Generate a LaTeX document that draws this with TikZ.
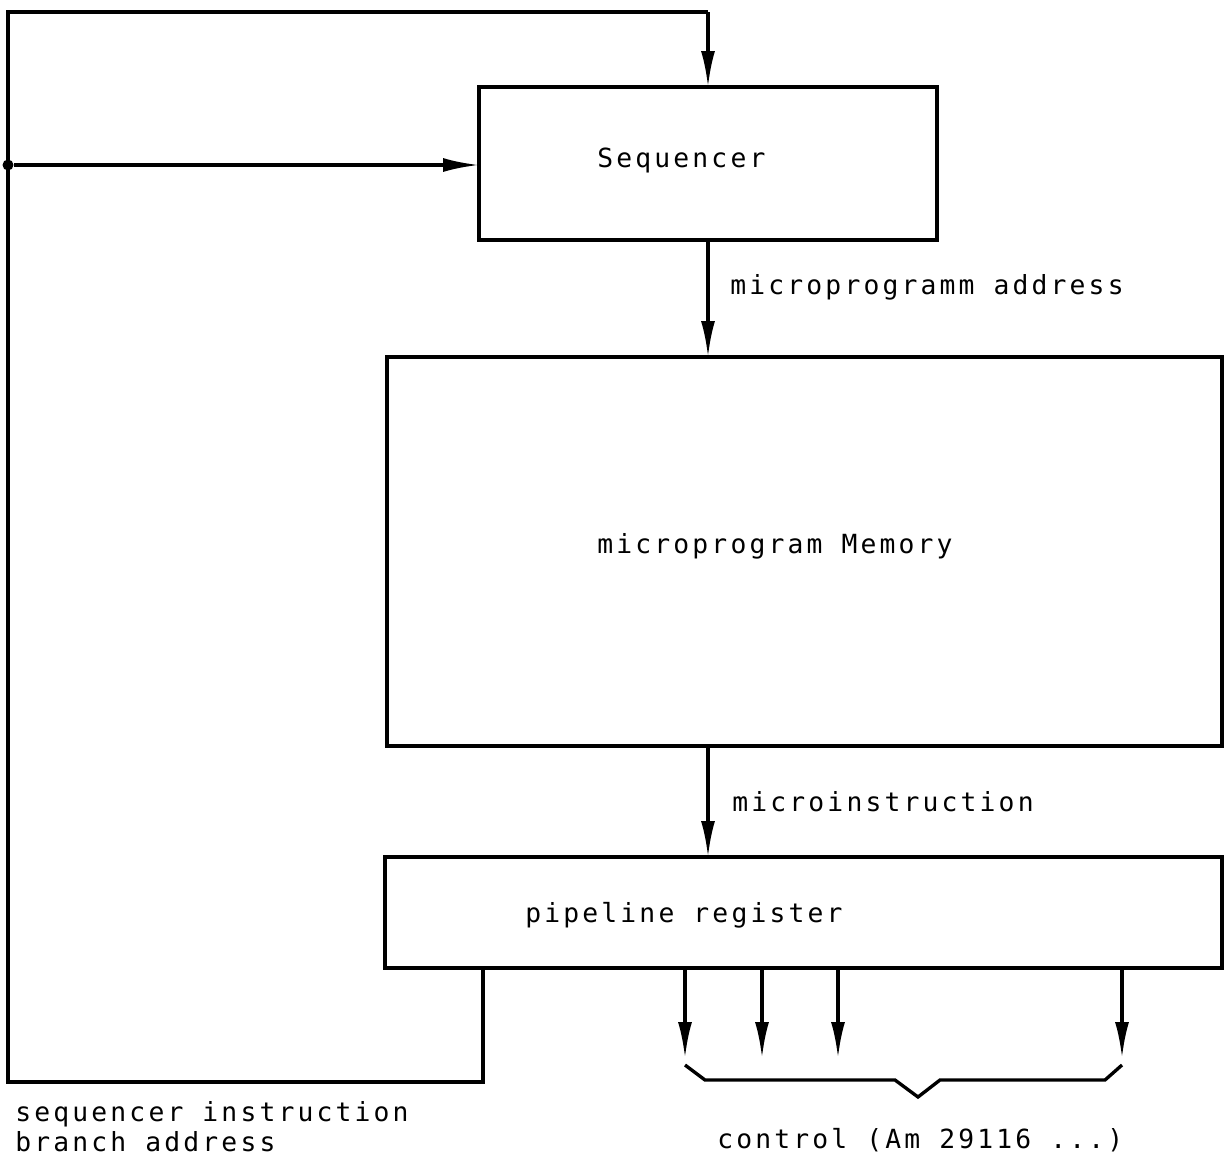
\documentclass[tikz,border=0pt]{standalone}
\usepackage{fontspec}
\setmonofont{DejaVu Sans Mono}[LetterSpace=12]
\usetikzlibrary{arrows.meta}
\begin{document}
\begin{tikzpicture}[x=0.02cm, y=-0.02cm,
  font=\ttfamily\fontsize{15}{19}\selectfont,
  blk/.style={draw, line width=1.9pt, inner sep=0pt, outer sep=0pt},
  txt/.style={inner sep=0pt, anchor=west},
  wire/.style={line width=1.9pt},
  arr/.style={wire, -{Latex[length=0.72cm, width=0.28cm]}}]
  \useasboundingbox (0,0) rectangle (1224,1163);
  % blocks
  \node[blk, minimum width=9.16cm, minimum height=3.06cm] (seq) at (708,163.5) {};
  \node[blk, minimum width=16.7cm, minimum height=7.78cm] (mem) at (804.5,551.5) {};
  \node[blk, minimum width=16.74cm, minimum height=2.22cm] (pipe) at (803.5,912.5) {};
  \node[txt] (seqtxt) at (597,160) {Sequencer};
  \node[txt] (memtxt) at (597,546) {microprogram Memory};
  \node[txt] (pipetxt) at (525,915) {pipeline register};
  % data path
  \draw[arr] (seq.south) -- (seq.south |- mem.north);
  \node[txt] (addr) at (730,287) {microprogramm address};
  \draw[arr] (seq.south |- mem.south) -- (seq.south |- pipe.north);
  \node[txt] (minstr) at (732,802) {microinstruction};
  % feedback loop
  \coordinate (br) at (483,1082);
  \coordinate (bl) at (8,1082);
  \coordinate (tl) at (8,12);
  \coordinate (tr) at (708,12);
  \draw[wire] (br |- pipe.south) -- (br) -- (bl) -- (tl) -- (tr);
  \draw[arr] (tr) -- (seq.north);
  \node[circle, fill, inner sep=0pt, minimum size=0.22cm] (jn) at (8,165) {};
  \draw[arr] (jn) -- (seq.west |- jn);
  \node[txt, align=left, anchor=north west, font=\ttfamily\fontsize{15}{17}\selectfont] (seqins) at (15,1101) {sequencer instruction\\branch address};
  % control outputs
  \foreach \i/\x in {1/685, 2/762, 3/838, 4/1122} {
    \coordinate (c\i) at (\x,1058);
    \draw[arr] (c\i |- pipe.south) -- (c\i);
  }
  \draw[wire] (685,1065) -- (705,1080) -- (895,1080) -- (918,1097) -- (940,1080) -- (1105,1080) -- (1122,1065);
  \node[txt] (ctrl) at (717,1140) {control (Am 29116 ...)};
\end{tikzpicture}
\end{document}
